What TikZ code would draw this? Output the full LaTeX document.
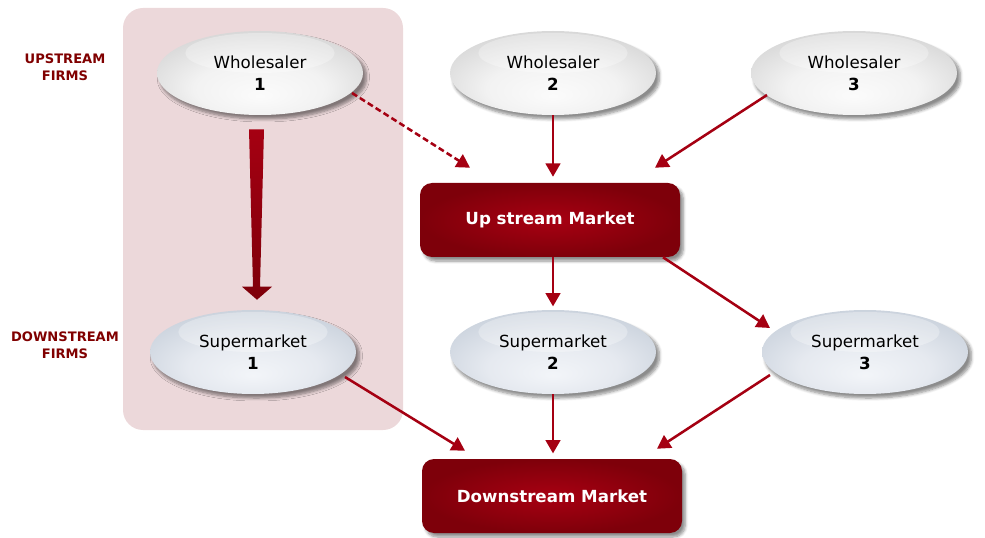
\documentclass[tikz,border=0pt]{standalone}
\usepackage{fontspec}
\setmainfont{DejaVu Sans}
\usetikzlibrary{arrows.meta,shadows.blur,calc,shapes.geometric}

\definecolor{panelpink}{RGB}{236,216,218}
\definecolor{labelred}{RGB}{128,0,0}
\definecolor{arrowred}{RGB}{165,0,18}
\definecolor{boxin}{RGB}{168,0,18}
\definecolor{boxout}{RGB}{126,0,10}

% body shadings of the firm ellipses: bright spot low in the middle
\pgfdeclareradialshading{wholesaleshade}{\pgfpoint{0bp}{-14bp}}{%
  rgb(0bp)=(0.985,0.985,0.985); rgb(16bp)=(0.95,0.95,0.95);
  rgb(30bp)=(0.85,0.85,0.85); rgb(42bp)=(0.76,0.76,0.76); rgb(50bp)=(0.74,0.74,0.74)}
\pgfdeclareradialshading{supershade}{\pgfpoint{0bp}{-14bp}}{%
  rgb(0bp)=(0.95,0.96,0.975); rgb(16bp)=(0.9,0.915,0.94);
  rgb(30bp)=(0.8,0.83,0.87); rgb(42bp)=(0.7,0.74,0.8); rgb(50bp)=(0.68,0.72,0.78)}

\tikzset{
  softshadow/.style={blur shadow={shadow xshift=2.5pt, shadow yshift=-3pt,
    shadow blur steps=6, shadow blur extra rounding=2pt, shadow opacity=45}},
  firm/.style={ellipse, minimum width=206*0.75pt, minimum height=84*0.75pt,
    align=center, inner sep=0pt, font=\fontsize{12.5}{16.5}\selectfont,
    softshadow,
    path picture={\fill[white,opacity=.3] ([yshift=15pt]path picture bounding box.center)
      ellipse [x radius=56pt, y radius=15pt];}},
  wholesale/.style={firm, shading=wholesaleshade},
  superm/.style={firm, shading=supershade},
  market/.style={rectangle, rounded corners=9pt, minimum width=260*0.75pt,
    minimum height=74*0.75pt, shade, inner color=boxin, outer color=boxout,
    text=white, font=\bfseries\fontsize{12.5}{15}\selectfont, softshadow},
  tierlabel/.style={align=center, text=labelred,
    font=\bfseries\fontsize{9.8}{12.75}\selectfont},
  conn/.style={draw=arrowred, line width=1.9pt,
    -{Triangle[length=10pt,width=11pt]}},
}

\begin{document}
\begin{tikzpicture}[x=0.75pt,y=-0.75pt]
\useasboundingbox (0,0) rectangle (985,538);

% shaded panel behind the first supply chain
\fill[panelpink, rounded corners=15pt] (123,8) rectangle (403,430);

% tier labels
\node[tierlabel] (lup) at (65,67) {UPSTREAM\\FIRMS};
\node[tierlabel] (ldn) at (65,345) {DOWNSTREAM\\FIRMS};

% upstream firms
\node[wholesale] (w1) at (260,73) {Wholesaler\\\textbf{1}};
\node[wholesale] (w2) at (553,73) {Wholesaler\\\textbf{2}};
\node[wholesale] (w3) at (854,73) {Wholesaler\\\textbf{3}};

% downstream firms
\node[superm] (s1) at (253,352) {Supermarket\\\textbf{1}};
\node[superm] (s2) at (553,352) {Supermarket\\\textbf{2}};
\node[superm] (s3) at (865,352) {Supermarket\\\textbf{3}};

% markets
\node[market] (up) at (550,220) {Up stream Market};
\node[market] (dn) at (552,496) {Downstream Market};

% vertical integration: tapering arrow from wholesaler 1 to supermarket 1
\coordinate (vt) at ($(w1.south)+(-3,14)$);
\coordinate (vb) at ($(s1.north)+(4,-10)$);
\shade[top color=arrowred, bottom color=boxout]
  ($(vt)+(-8,0)$) -- ($(vt)+(7,0)$) -- ($(vb)+(3,-13)$) -- ($(vb)+(15,-13)$)
  -- (vb) -- ($(vb)+(-15,-13)$) -- ($(vb)+(-4,-13)$) -- cycle;

% upstream connectors
\draw[conn, dash pattern=on 4.5pt off 2.5pt]
  ($(w1)+(92,20)$) -- ($(up.north)+(-80,-15)$);
\draw[conn, shorten >=4.5pt] (w2.south) -- (w2.south |- up.north);
\draw[conn] ($(w3)+(-87,22)$) -- ($(up.north)+(105,-15)$);

% from upstream market to supermarkets
\draw[conn, shorten >=2.5pt] (s2.north |- up.south) -- (s2.north);
\draw[conn] ($(up.south)+(113,0)$) -- ($(s3)+(-95,-24)$);

% downstream connectors
\draw[conn] ($(s1)+(92,25)$) -- ($(dn.north)+(-87,-8)$);
\draw[conn, shorten >=4pt] (s2.south) -- (s2.south |- dn.north);
\draw[conn] ($(s3)+(-95,23)$) -- ($(dn.north)+(105,-10)$);
\end{tikzpicture}
\end{document}
